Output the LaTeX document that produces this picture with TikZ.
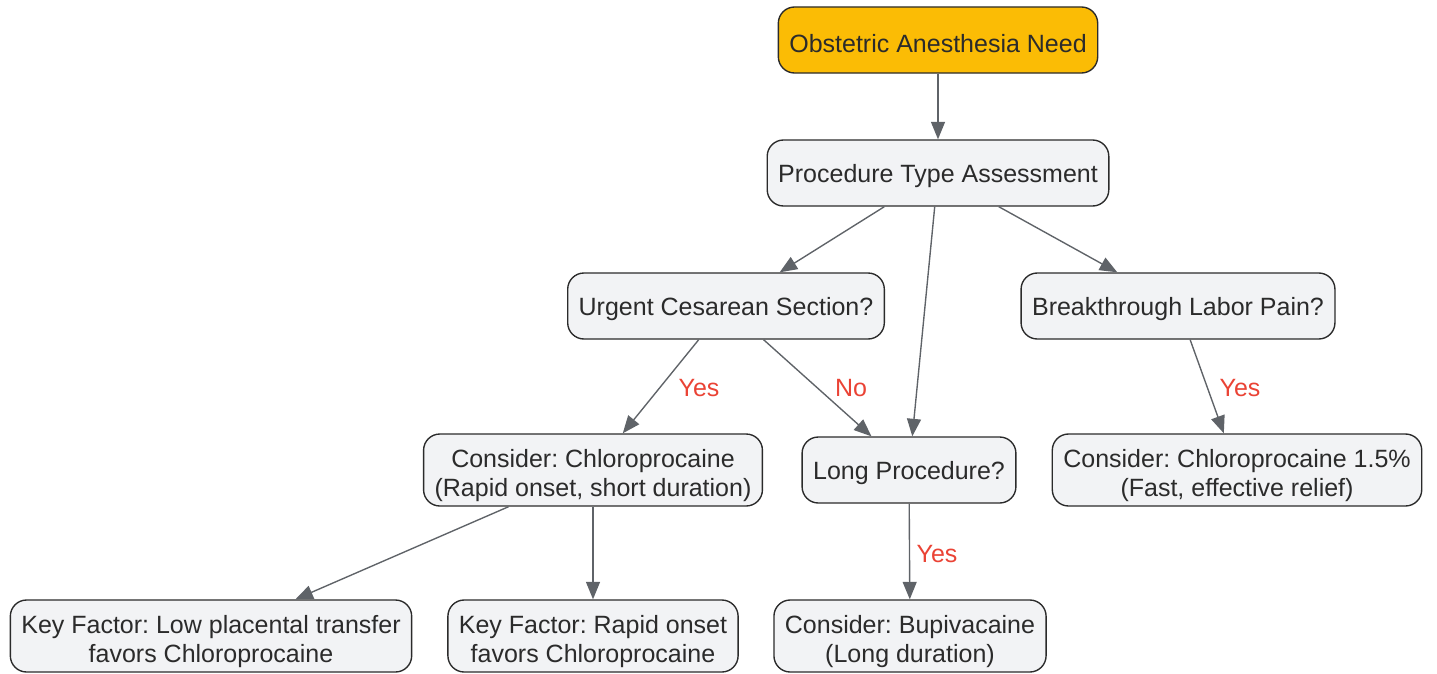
\documentclass[tikz,border=0pt]{standalone}
\usepackage{fontspec}
\setmainfont{Liberation Sans}
\usetikzlibrary{arrows.meta}
\frenchspacing

\definecolor{boxfill}{HTML}{F2F3F5}
\definecolor{boxline}{HTML}{2B2B2B}
\definecolor{startfill}{HTML}{FBBC05}
\definecolor{arrowgray}{HTML}{5F6368}
\definecolor{labelred}{HTML}{EA4335}

\newcommand{\firstrow}{\rule{0pt}{11.5pt}}

\tikzset{
  box/.style={draw=boxline, fill=boxfill, line width=0.55pt, rounded corners=6.5pt,
    align=center, inner xsep=4.4pt, inner ysep=3.6pt, minimum height=26.4pt,
    font=\fontsize{10}{11.6}\selectfont, text=boxline,
    execute at begin node={\rule{0pt}{9.7pt}}},
  twoline/.style={box, inner ysep=1.3pt, minimum height=28.8pt},
  startbox/.style={box, fill=startfill},
  flow/.style={draw=arrowgray, line width=0.55pt, -{Triangle[length=7pt,width=5.6pt]}},
  answer/.style={text=labelred, font=\fontsize{10}{11.6}\selectfont, inner sep=0pt}
}

\begin{document}
\begin{tikzpicture}[x=0.4pt, y=-0.4pt]
\useasboundingbox (0,0) rectangle (1437,673);

\node[startbox] (need) at (938,40) {Obstetric Anesthesia Need};
\node[box] (assess) at (938,173) {Procedure Type Assessment};

\node[box] (urgent) at (726,306) {Urgent Cesarean Section?};
\node[box] (labor) at (1178,306) {Breakthrough Labor Pain?};

\node[twoline] (chloro) at (593,470) {\firstrow Consider: Chloroprocaine\\(Rapid onset, short duration)};
\node[box] (long) at (909,470) {Long Procedure?};
\node[twoline] (chlorofast) at (1237,470) {\firstrow Consider: Chloroprocaine 1.5\%\\(Fast, effective relief)};

\node[twoline] (placenta) at (211,636) {\firstrow Key Factor: Low placental transfer\\favors Chloroprocaine};
\node[twoline] (onset) at (593,636) {\firstrow Key Factor: Rapid onset\\favors Chloroprocaine};
\node[twoline] (bupi) at (910,636) {\firstrow Consider: Bupivacaine\\(Long duration)};

% connectors
\draw[flow] (need) -- (assess);
\draw[flow] (assess) -- (urgent);
\draw[flow] (assess) -- (long);
\draw[flow] (assess) -- (labor);
\draw[flow] (urgent) -- (chloro);
\draw[flow] (urgent) -- (long);
\draw[flow] (labor) -- (chlorofast);
\draw[flow] (chloro) -- (placenta);
\draw[flow] (chloro) -- (onset);
\draw[flow] (long) -- (bupi);

% answers on the branches
\node[answer] (urgentyes) at (699,388) {Yes};
\node[answer] (urgentno) at (851,388) {No};
\node[answer] (laboryes) at (1240,388) {Yes};
\node[answer] (longyes) at (937,554) {Yes};
\end{tikzpicture}
\end{document}
